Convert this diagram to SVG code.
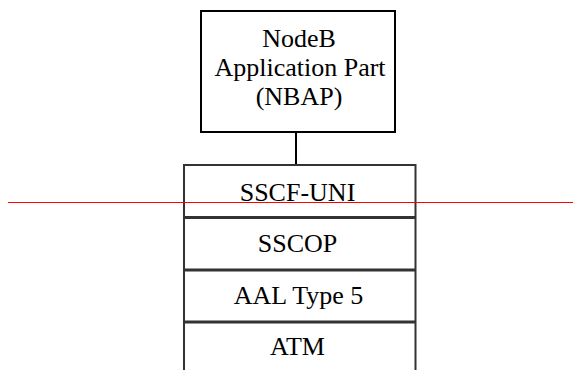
<svg xmlns="http://www.w3.org/2000/svg" width="573" height="370" viewBox="0 0 573 370">
<style>
.t{font-family:"Liberation Serif","Times New Roman",serif;font-size:26px;fill:#000;text-anchor:middle}
.box{fill:#fff;stroke:#000;stroke-width:2}
.stk{stroke:#333;fill:none}
</style>
<rect width="573" height="370" fill="#fff"/>
<g id="nbap">
<rect class="box" x="201" y="11" width="194" height="121"/>
<text class="t" x="299" y="47">NodeB</text>
<text class="t" x="300" y="76">Application Part</text>
<text class="t" x="299" y="105">(NBAP)</text>
</g>
<g id="connectors">
<line x1="296" y1="132" x2="296" y2="165" stroke="#000" stroke-width="2"/>
</g>
<g id="stack">
<path class="stk" d="M184,370 V165 H415.5 V370" stroke-width="2"/>
<line class="stk" x1="184" y1="217.5" x2="415.5" y2="217.5" stroke-width="3"/>
<line class="stk" x1="184" y1="270" x2="415.5" y2="270" stroke-width="3"/>
<line class="stk" x1="184" y1="322" x2="415.5" y2="322" stroke-width="3"/>
</g>
<g id="sscf"><text class="t" x="297.5" y="201">SSCF-UNI</text></g>
<g id="sscop"><text class="t" x="297.5" y="252">SSCOP</text></g>
<g id="aal5"><text class="t" x="298.5" y="304">AAL Type 5</text></g>
<g id="atm"><text class="t" x="297.5" y="355">ATM</text></g>
<line x1="8" y1="202.5" x2="573" y2="202.5" stroke="#f00" stroke-width="1"/>
</svg>
